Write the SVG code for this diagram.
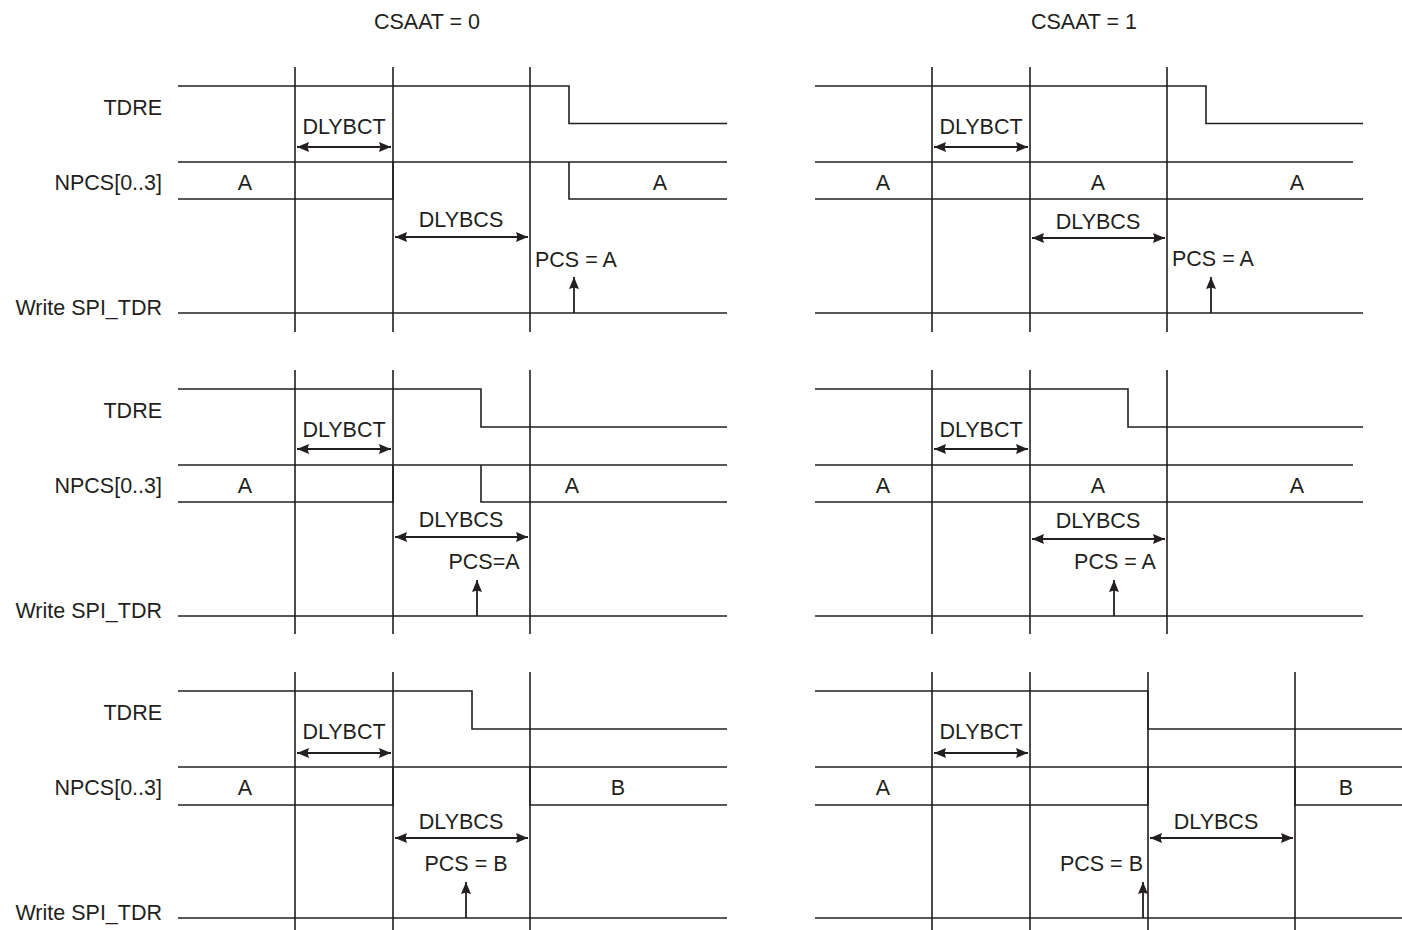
<svg xmlns="http://www.w3.org/2000/svg" width="1402" height="930" viewBox="0 0 1402 930">
<style>
.ln{fill:none;stroke:#231f20;stroke-width:1.6}
.ar{fill:none;stroke:#231f20;stroke-width:1.8}
.da{marker-start:url(#ah);marker-end:url(#ah)}
.ua{marker-end:url(#ah)}
text{font-family:"Liberation Sans",Arial,Helvetica,sans-serif;font-size:21.5px;fill:#231f20}
.m{text-anchor:middle}
.e{text-anchor:end}
</style>
<defs>
<marker id="ah" markerWidth="13" markerHeight="11" refX="12" refY="5" orient="auto-start-reverse" markerUnits="userSpaceOnUse">
<path d="M0,0 L12,5 L0,10 L1.5,5 z" fill="#231f20"/>
</marker>
</defs>
<rect width="1402" height="930" fill="#ffffff"/>

<g id="titles">
<text class="m" x="427" y="29">CSAAT = 0</text>
<text class="m" x="1084" y="29">CSAAT = 1</text>
</g>

<g id="row-labels">
<text class="e" x="162" y="115">TDRE</text>
<text class="e" x="162" y="190">NPCS[0..3]</text>
<text class="e" x="162" y="315">Write SPI_TDR</text>
<text class="e" x="162" y="418">TDRE</text>
<text class="e" x="162" y="493">NPCS[0..3]</text>
<text class="e" x="162" y="618">Write SPI_TDR</text>
<text class="e" x="162" y="720">TDRE</text>
<text class="e" x="162" y="795">NPCS[0..3]</text>
<text class="e" x="162" y="920">Write SPI_TDR</text>
</g>

<!-- Left column, row 1 -->
<g id="panel-l1">
<path class="ln" d="M295,67V332M393,67V332M530,67V332"/>
<path class="ln" d="M178,86H569V123.5H727"/>
<path class="ln" d="M178,162H727M178,199H393V162M569,162V199H727"/>
<path class="ln" d="M178,313H727"/>
<text class="m" x="245" y="190">A</text>
<text class="m" x="660" y="190">A</text>
<text class="m" x="344" y="134">DLYBCT</text>
<text class="m" x="461" y="227">DLYBCS</text>
<text x="535" y="267">PCS = A</text>
</g>

<!-- Left column, row 2 -->
<g id="panel-l2">
<path class="ln" d="M295,370V634M393,370V634M530,370V634"/>
<path class="ln" d="M178,389H481V427H727"/>
<path class="ln" d="M178,465H727M178,502H393V465M481,465V502H727"/>
<path class="ln" d="M178,616H727"/>
<text class="m" x="245" y="493">A</text>
<text class="m" x="572" y="493">A</text>
<text class="m" x="344" y="437">DLYBCT</text>
<text class="m" x="461" y="527">DLYBCS</text>
<text class="m" x="484" y="569">PCS=A</text>
</g>

<!-- Left column, row 3 -->
<g id="panel-l3">
<path class="ln" d="M295,672V930M393,672V930M530,672V930"/>
<path class="ln" d="M178,691H472V729H727"/>
<path class="ln" d="M178,767H727M178,805H393V767M530,767V805H727"/>
<path class="ln" d="M178,918H727"/>
<text class="m" x="245" y="795">A</text>
<text class="m" x="618" y="795">B</text>
<text class="m" x="344" y="739">DLYBCT</text>
<text class="m" x="461" y="829">DLYBCS</text>
<text class="m" x="466" y="871">PCS = B</text>
</g>

<!-- Right column, row 1 -->
<g id="panel-r1">
<path class="ln" d="M932,67V332M1030,67V332M1167,67V332"/>
<path class="ln" d="M815,86H1206V123.5H1363"/>
<path class="ln" d="M815,162H1353M815,199H1363"/>
<path class="ln" d="M815,313H1363"/>
<text class="m" x="883" y="190">A</text>
<text class="m" x="1098" y="190">A</text>
<text class="m" x="1297" y="190">A</text>
<text class="m" x="981" y="134">DLYBCT</text>
<text class="m" x="1098" y="229">DLYBCS</text>
<text x="1172" y="266">PCS = A</text>
</g>

<!-- Right column, row 2 -->
<g id="panel-r2">
<path class="ln" d="M932,370V634M1030,370V634M1167,370V634"/>
<path class="ln" d="M815,389H1128V427H1363"/>
<path class="ln" d="M815,465H1353M815,502H1363"/>
<path class="ln" d="M815,616H1363"/>
<text class="m" x="883" y="493">A</text>
<text class="m" x="1098" y="493">A</text>
<text class="m" x="1297" y="493">A</text>
<text class="m" x="981" y="437">DLYBCT</text>
<text class="m" x="1098" y="528">DLYBCS</text>
<text class="m" x="1115" y="569">PCS = A</text>
</g>

<!-- Right column, row 3 -->
<g id="panel-r3">
<path class="ln" d="M932,672V930M1030,672V930M1148,672V930M1295,672V930"/>
<path class="ln" d="M815,691H1148V729H1402"/>
<path class="ln" d="M815,767H1402M815,805H1148V767M1295,767V805H1402"/>
<path class="ln" d="M815,918H1402"/>
<text class="m" x="883" y="795">A</text>
<text class="m" x="1346" y="795">B</text>
<text class="m" x="981" y="739">DLYBCT</text>
<text class="m" x="1216" y="829">DLYBCS</text>
<text class="e" x="1143" y="871">PCS = B</text>
</g>

<g id="connectors">
<!-- delay arrows -->
<line class="ar da" x1="297" y1="147" x2="391" y2="147"/>
<line class="ar da" x1="395" y1="237" x2="528" y2="237"/>
<line class="ar da" x1="297" y1="449" x2="391" y2="449"/>
<line class="ar da" x1="395" y1="537" x2="528" y2="537"/>
<line class="ar da" x1="297" y1="753" x2="391" y2="753"/>
<line class="ar da" x1="395" y1="838" x2="528" y2="838"/>
<line class="ar da" x1="934" y1="147" x2="1028" y2="147"/>
<line class="ar da" x1="1032" y1="238" x2="1165" y2="238"/>
<line class="ar da" x1="934" y1="449" x2="1028" y2="449"/>
<line class="ar da" x1="1032" y1="539" x2="1165" y2="539"/>
<line class="ar da" x1="934" y1="753" x2="1028" y2="753"/>
<line class="ar da" x1="1150" y1="838" x2="1293" y2="838"/>
<!-- write pointers -->
<line class="ar ua" x1="574" y1="313" x2="574" y2="277"/>
<line class="ar ua" x1="477" y1="616" x2="477" y2="580"/>
<line class="ar ua" x1="466" y1="918" x2="466" y2="882"/>
<line class="ar ua" x1="1211" y1="313" x2="1211" y2="277"/>
<line class="ar ua" x1="1114" y1="616" x2="1114" y2="580"/>
<line class="ar ua" x1="1143" y1="918" x2="1143" y2="882"/>
</g>
</svg>
